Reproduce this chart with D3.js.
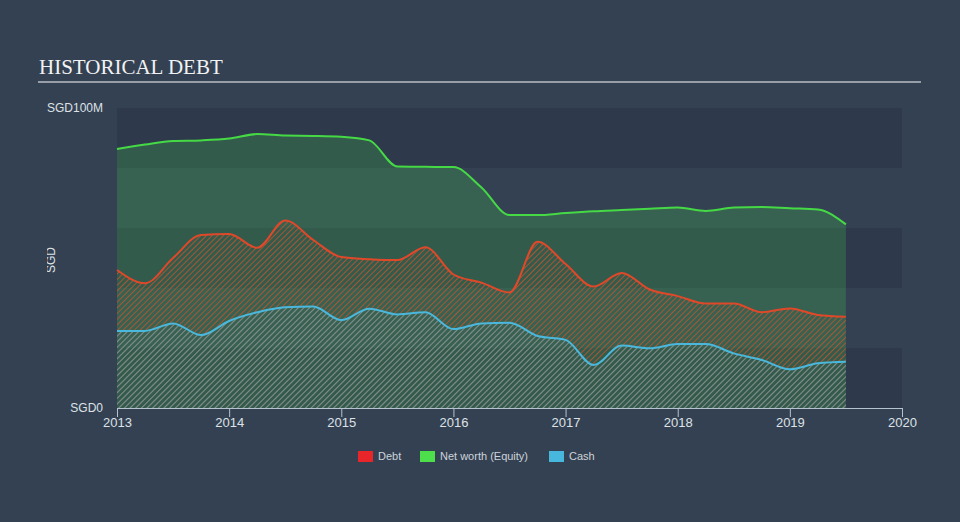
<!DOCTYPE html>
<html><head><meta charset="utf-8">
<script src="https://cdn.jsdelivr.net/npm/d3@7"></script>
<style>
html,body{margin:0;padding:0;background:#344152;}
svg{display:block;font-family:"Liberation Sans",Arial,sans-serif;}
</style></head>
<body>
<svg id="chart" width="960" height="522"></svg>
<script>
const dates = [2013.0,2013.25,2013.5,2013.75,2014.0,2014.25,2014.5,2014.75,2015.0,2015.25,2015.5,2015.75,2016.0,2016.25,2016.5,2016.75,2017.0,2017.25,2017.5,2017.75,2018.0,2018.25,2018.5,2018.75,2019.0,2019.25,2019.5];
const equity = [86.3,87.8,89.0,89.2,89.8,91.3,90.8,90.7,90.4,89.2,80.5,80.4,80.3,73.5,64.3,64.3,65.0,65.6,66.0,66.4,66.8,65.7,66.8,67.0,66.6,66.2,61.2];
const debt = [46.0,41.6,50.0,57.7,58.0,53.4,62.5,56.0,50.3,49.6,49.3,53.6,44.5,41.8,38.5,55.4,48.0,40.5,45.0,39.5,37.3,34.8,34.8,31.9,33.2,31.0,30.4];
const cash = [25.7,25.7,28.2,24.3,29.0,31.9,33.6,33.8,29.3,33.1,31.2,31.9,26.3,28.2,28.4,24.0,22.7,14.3,20.8,19.9,21.3,21.3,18.2,16.0,12.9,14.9,15.4];
const xTicks = [2013,2014,2015,2016,2017,2018,2019,2020];
const yTickLabels = ["SGD0","SGD100M"];
const yTickValues = [0,100];
const legendNames = ["Debt","Net worth (Equity)","Cash"];
const legendColors = ["#e8262a","#4ddf4b","#47b7dd"];

const svg = d3.select("#chart");
const pLeft = 117, pRight = 902, pTop = 108, pBottom = 408;
const x = d3.scaleLinear().domain([2013,2020]).range([pLeft,pRight]);
const y = d3.scaleLinear().domain([0,100]).range([pBottom,pTop]);

// title
svg.append("text").attr("x",39).attr("y",74).text("HISTORICAL DEBT")
  .attr("font-family","'Liberation Serif','Times New Roman',serif").attr("font-size",21).attr("fill","#f2f2f2");
svg.append("line").attr("x1",38).attr("x2",921).attr("y1",82).attr("y2",82).attr("stroke","#b9bec5").attr("stroke-width",1.5);

// bands
const bandEdges = [0,20,40,60,80,100];
for (let i=0;i<5;i++){
  svg.append("rect").attr("x",pLeft).attr("width",pRight-pLeft)
    .attr("y",y(bandEdges[5-i])).attr("height",y(bandEdges[4-i])-y(bandEdges[5-i]))
    .attr("fill", i%2===0 ? "#2e3a4b" : "#334152");
}

const defs = svg.append("defs");
function pattern(id,color){
  const p = defs.append("pattern").attr("id",id).attr("patternUnits","userSpaceOnUse")
    .attr("width",4).attr("height",4).attr("patternTransform","rotate(45)");
  p.append("line").attr("x1",0).attr("y1",0).attr("x2",0).attr("y2",4).attr("stroke",color).attr("stroke-width",2);
}
pattern("hDebt","#c2552f");
pattern("hCash","#5fa0b0");
defs.append("clipPath").attr("id","yclip").append("rect").attr("x",47).attr("y",0).attr("width",200).attr("height",522);

const idx = d3.range(dates.length);
function area(vals){ return d3.area().x(i=>x(dates[i])).y0(y(0)).y1(i=>y(vals[i])).curve(d3.curveMonotoneX)(idx); }
function line(vals){ return d3.line().x(i=>x(dates[i])).y(i=>y(vals[i])).curve(d3.curveMonotoneX)(idx); }

svg.append("path").attr("d",area(equity)).attr("fill","#4ddf4b").attr("fill-opacity",0.2);
svg.append("path").attr("d",area(debt)).attr("fill","url(#hDebt)").attr("opacity",0.8);
svg.append("path").attr("d",area(cash)).attr("fill","url(#hCash)").attr("opacity",0.8);
svg.append("path").attr("d",line(equity)).attr("fill","none").attr("stroke","#46d946").attr("stroke-width",2);
svg.append("path").attr("d",line(debt)).attr("fill","none").attr("stroke","#e0482a").attr("stroke-width",2);
svg.append("path").attr("d",line(cash)).attr("fill","none").attr("stroke","#4ab8dd").attr("stroke-width",2);

// x axis
const xa = svg.append("g").attr("transform",`translate(0,${pBottom})`)
  .call(d3.axisBottom(x).tickValues(xTicks).tickFormat(d3.format("d")).tickSize(9).tickSizeOuter(0));
xa.select(".domain").attr("stroke","#b6c2ce");
xa.selectAll(".tick line").attr("stroke","#b6c2ce");
xa.selectAll(".tick text").attr("fill","#dde2e7").attr("font-size",13).attr("y",10).attr("dy","0.71em");

// y labels
const yg = svg.append("g").attr("clip-path","url(#yclip)");
yTickValues.forEach((v,i)=>{
  yg.append("text").attr("x",103).attr("y",y(v)).attr("dy","0.35em").attr("text-anchor","end")
    .attr("font-size",12).attr("fill","#dde2e7").text(yTickLabels[i]);
});
yg.append("text").attr("transform","translate(55,260) rotate(-90)").attr("text-anchor","middle")
  .attr("font-size",12).attr("fill","#dde2e7").text("SGD");

// legend
const lx = [358,420,549];
legendNames.forEach((n,i)=>{
  svg.append("rect").attr("x",lx[i]).attr("y",451).attr("width",15).attr("height",11).attr("fill",legendColors[i]);
  svg.append("text").attr("x",lx[i]+20).attr("y",456).attr("dy","0.35em").attr("font-size",11).attr("fill","#cdd3da").text(n);
});
</script>
</body></html>
